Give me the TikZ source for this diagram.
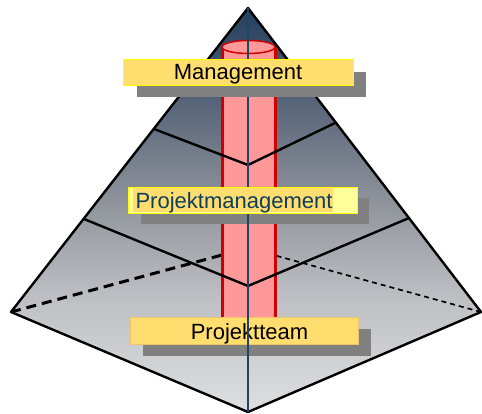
\documentclass[tikz,border=0pt]{standalone}
\usepackage{fontspec}
\setmainfont{Liberation Sans}
\usetikzlibrary{calc}
\definecolor{ctop}{HTML}{233F5E}
\definecolor{c100}{HTML}{566378}
\definecolor{c200}{HTML}{8E939B}
\definecolor{c300}{HTML}{BFC0C4}
\definecolor{cbot}{HTML}{DEDFE0}
\definecolor{cylfill}{HTML}{FF9999}
\definecolor{cylred}{HTML}{D00000}
\definecolor{labfill}{HTML}{FFDD6E}
\definecolor{lablight}{HTML}{FFFF99}
\definecolor{labborder}{HTML}{FFFF00}
\definecolor{teamborder}{HTML}{F2C46A}
\definecolor{shadowgray}{HTML}{808080}
\definecolor{axisblue}{HTML}{1D4566}
\definecolor{pmtext}{HTML}{0E3E5E}
\pgfdeclareverticalshading{pyrshade}{100bp}{color(0bp)=(cbot); color(25bp)=(cbot); color(38.9bp)=(c300); color(51.2bp)=(c200); color(63.6bp)=(c100); color(75bp)=(ctop); color(100bp)=(ctop)}
\begin{document}
\begin{tikzpicture}[x=1pt,y=-1pt,
  edge/.style={draw=black,line width=2.4pt,line join=round,line cap=round},
  shadowbox/.style={fill=shadowgray,draw=none,inner sep=0pt,minimum width=228pt,minimum height=26pt},
  labbox/.style={fill=labfill,inner sep=0pt,minimum width=229pt,minimum height=26pt},
  labtext/.style={inner sep=0pt,anchor=base,font=\fontsize{22}{24}\selectfont}
]
\useasboundingbox (0,0) rectangle (482,414);
% corners
\coordinate (A) at (248,8);
\coordinate (L) at (11,312);
\coordinate (F) at (248,412);
\coordinate (R) at (481,312);
\coordinate (B) at (248,248);
\coordinate (U1) at (154,129);
\coordinate (U2) at (248,165);
\coordinate (U3) at (335,123);
\coordinate (M1) at (84,219);
\coordinate (M2) at (248,286);
\coordinate (M3) at (409,218);
% pyramid body
\shade[shading=pyrshade] (A) -- (L) -- (F) -- (R) -- cycle;
% hidden edges
\draw[line width=3pt,dash pattern=on 10pt off 6pt] (L) -- (B);
\draw[line width=1.7pt,dash pattern=on 5pt off 4pt] (R) -- (B);
% cylinder
\fill[cylfill] (222,47) rectangle (275,332);
\draw[cylred,line width=3pt] (222,47) -- (222,332) (275,47) -- (275,332);
\draw[cylred,fill=cylfill,line width=1.5pt] (248.5,47) ellipse [x radius=26.5, y radius=6.5];
% level lines and edges
\draw[edge] (U1) -- (U2) -- (U3);
\draw[edge] (M1) -- (M2) -- (M3);
\draw[edge] (A) -- (L) -- (F) -- (R) -- cycle;
% Projektmanagement shadow
\node[shadowbox] (pmshadow) at (255,211.5) {};
% Projektteam
\node[shadowbox,minimum height=27pt] (ptshadow) at (257,342.5) {};
\node[labbox,draw=teamborder,line width=0.8pt,minimum width=228pt,minimum height=27pt] (ptbox) at (244,330.5) {};
\node[labtext] (pttext) at (249.5,339) {Projektteam};
% axis
\draw[axisblue,line width=1.2pt] (A) -- (F);
% Projektmanagement label
\node[fill=lablight,draw=labborder,line width=0.8pt,inner sep=0pt,minimum width=229pt,minimum height=26pt] (pmbox) at (242.5,200) {};
\fill[labfill] (133,187.6) rectangle (333,212.4);
\node[labtext,text=pmtext] (pmtext) at (234,209) {Projektmanagement};
% Management
\node[shadowbox,minimum width=229pt,minimum height=25pt] (mshadow) at (251,84.5) {};
\node[labbox,draw=labborder,line width=0.8pt,minimum width=230pt] (mbox) at (238,72) {};
\node[labtext] (mtext) at (238,80) {Management};
\end{tikzpicture}
\end{document}
